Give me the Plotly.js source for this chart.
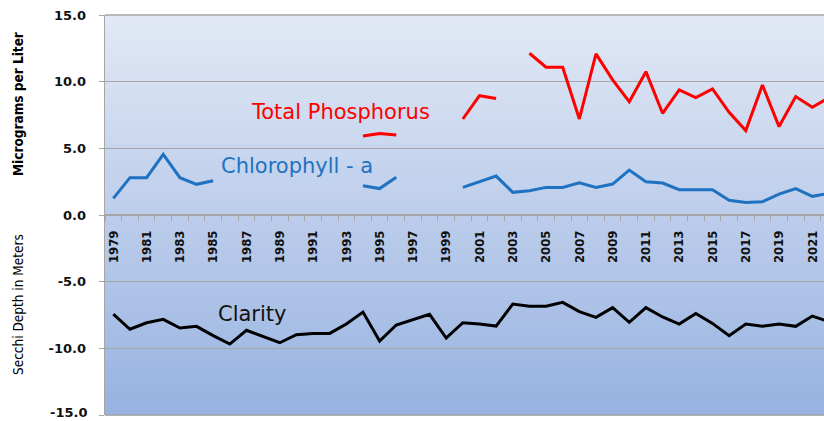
<!DOCTYPE html>
<html>
<head>
<meta charset="utf-8">
<script src="https://cdn.plot.ly/plotly-3.0.1.min.js"></script>
<style>html,body{margin:0;padding:0;background:#fff;}#chart{width:824px;height:421px;}</style>
</head>
<body>
<div id="chart"></div>
<script>
const years = [1979,1980,1981,1982,1983,1984,1985,1986,1987,1988,1989,1990,1991,1992,1993,1994,1995,1996,1997,1998,1999,2000,2001,2002,2003,2004,2005,2006,2007,2008,2009,2010,2011,2012,2013,2014,2015,2016,2017,2018,2019,2020,2021,2022];
const tickYears = [1979,1981,1983,1985,1987,1989,1991,1993,1995,1997,1999,2001,2003,2005,2007,2009,2011,2013,2015,2017,2019,2021];
const chlorophyll = [1.25,2.8,2.8,4.55,2.8,2.3,2.57,null,null,null,null,null,null,null,null,2.2,1.98,2.83,null,null,null,2.07,2.5,2.92,1.7,1.82,2.07,2.07,2.42,2.07,2.32,3.37,2.5,2.4,1.9,1.9,1.9,1.1,0.93,1.0,1.57,1.98,1.4,1.63];
const phosphorus = [null,null,null,null,null,null,null,null,null,null,null,null,null,null,null,5.93,6.12,6.0,null,null,null,7.2,8.95,8.73,null,12.13,11.08,11.08,7.2,12.08,10.13,8.5,10.75,7.63,9.38,8.8,9.45,7.7,6.33,9.75,6.63,8.88,8.08,8.8];
const clarity = [-7.43,-8.57,-8.08,-7.83,-8.48,-8.35,-9.05,-9.68,-8.65,-9.13,-9.58,-8.98,-8.88,-8.88,-8.18,-7.28,-9.45,-8.25,-7.83,-7.45,-9.23,-8.08,-8.18,-8.33,-6.68,-6.85,-6.85,-6.55,-7.25,-7.68,-6.95,-8.05,-6.95,-7.65,-8.18,-7.38,-8.13,-9.05,-8.18,-8.35,-8.18,-8.35,-7.58,-8.0];
const yTicks = [15,10,5,0,-5,-10,-15];
const yTickText = ['15.0','10.0','5.0','0.0','-5.0','-10.0',''];
const yBottomLabel = '-15.0';

// background gradient bands (styling only)
const shapes = [];
const N = 80;
const gradTop = [226,233,245], gradBot = [151,178,225];
for (let i = 0; i < N; i++) {
  const t = (i + 0.5) / N;
  const c = gradTop.map((v, k) => Math.round(v + (gradBot[k] - v) * t));
  shapes.push({type:'rect', xref:'paper', yref:'paper', x0:0, x1:1, y0:1 - (i+1)/N - 0.001, y1:1 - i/N, fillcolor:'rgb('+c.join(',')+')', line:{width:0}, layer:'below'});
}
shapes.push({type:'line', xref:'paper', yref:'paper', x0:0, x1:1, y0:1, y1:1, line:{color:'#a6a6a6', width:1.3}, layer:'below'});
shapes.push({type:'line', xref:'paper', yref:'paper', x0:0, x1:1, y0:0, y1:0, line:{color:'#a6a6a6', width:1.3}, layer:'below'});

const traces = [
  {x: years, y: phosphorus, type:'scatter', mode:'lines', line:{color:'#ff0000', width:3}, connectgaps:false, hoverinfo:'skip'},
  {x: years, y: chlorophyll, type:'scatter', mode:'lines', line:{color:'#1f72c1', width:3}, connectgaps:false, hoverinfo:'skip'},
  {x: years, y: clarity, type:'scatter', mode:'lines', line:{color:'#000000', width:3}, connectgaps:false, hoverinfo:'skip'}
];

const condensed = '"DejaVu Sans Condensed","Liberation Sans Narrow",sans-serif';
const layout = {
  width: 824, height: 421,
  margin: {l:105, r:0, t:15, b:6, pad:0},
  paper_bgcolor:'#ffffff', plot_bgcolor:'rgba(0,0,0,0)',
  showlegend:false,
  shapes: shapes,
  xaxis: {
    type:'linear', range:[1978.5, 2021.7], anchor:'free', position:0.5,
    showline:true, linecolor:'#a6a6a6', linewidth:1.3,
    showgrid:false, zeroline:false,
    tickmode:'array', tickvals: tickYears, ticktext: tickYears.map(String),
    ticks:'', tickangle:-90, ticklabelstandoff:9,
    tickfont:{family:condensed, size:13, color:'#111', weight:'bold'},
    minor:{tick0:1978.5, dtick:1, ticks:'outside', ticklen:5, tickcolor:'#a6a6a6', tickwidth:1, showgrid:false}
  },
  yaxis: {
    range:[-15,15], showline:true, linecolor:'#a6a6a6', linewidth:1.3,
    showgrid:true, gridcolor:'#a6a6a6', gridwidth:1.3, zeroline:false,
    tickmode:'array', tickvals:yTicks, ticktext:yTickText,
    ticks:'outside', ticklen:5, tickcolor:'#a6a6a6', ticklabelstandoff:10,
    tickfont:{family:'"DejaVu Sans",sans-serif', size:13, color:'#111', weight:'bold'}
  },
  annotations: [
    {text:yBottomLabel, xref:'paper', yref:'y', x:0, y:-15, xshift:-17, yshift:-5.5, showarrow:false, xanchor:'right', yanchor:'bottom', borderpad:0, font:{family:'"DejaVu Sans",sans-serif', size:13, color:'#111', weight:'bold'}},
    {text:'Total Phosphorus', xref:'paper', yref:'paper', x:0.327, y:0.7575, showarrow:false, xanchor:'center', yanchor:'middle', font:{family:'"DejaVu Sans",sans-serif', size:21, color:'#ff0000'}},
    {text:'Chlorophyll - a', xref:'paper', yref:'paper', x:0.267, y:0.6225, showarrow:false, xanchor:'center', yanchor:'middle', font:{family:'"DejaVu Sans",sans-serif', size:21, color:'#1f72c1'}},
    {text:'Clarity', xref:'paper', yref:'paper', x:0.2045, y:0.2525, showarrow:false, xanchor:'center', yanchor:'middle', font:{family:'"DejaVu Sans",sans-serif', size:21, color:'#111'}},
    {text:'Micrograms per Liter', xref:'paper', yref:'paper', x:-0.121, y:0.7775, showarrow:false, textangle:-90, xanchor:'center', yanchor:'middle', font:{family:condensed, size:13.5, color:'#000', weight:'bold'}},
    {text:'Secchi Depth in Meters', xref:'paper', yref:'paper', x:-0.121, y:0.275, showarrow:false, textangle:-90, xanchor:'center', yanchor:'middle', font:{family:condensed, size:13.5, color:'#000'}}
  ]
};

Plotly.newPlot('chart', traces, layout, {staticPlot:true, displayModeBar:false});
</script>
</body>
</html>
